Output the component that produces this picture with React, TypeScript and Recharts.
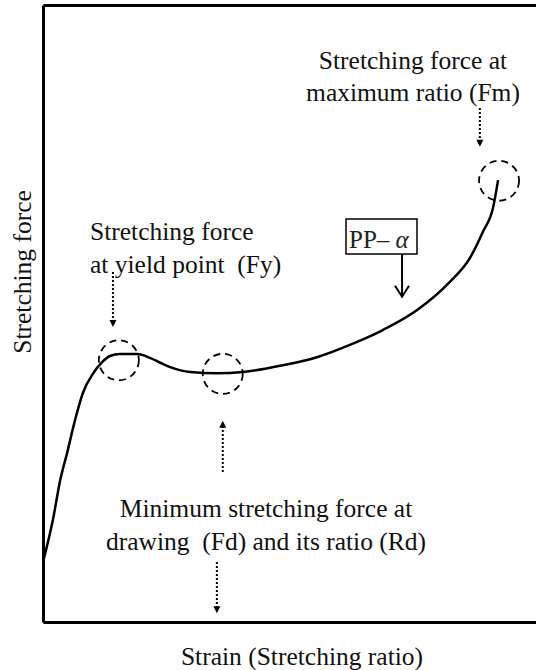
import type { FC } from "react";
import { LineChart, Line, XAxis, YAxis, ReferenceLine, ReferenceDot } from "recharts";

// stress-strain curve of the drawn PP film (arbitrary units, 0-100)
const strain = [0, 1.9, 3.4, 4.8, 6.4, 8.0, 10.1, 11.9, 13.5, 15.5, 19.0, 21.6, 23.7, 25.7, 29.8, 35.2, 40.5, 48.6, 55.5, 62.2, 68.9, 75.8, 82.5, 86.6, 89.2, 91.3, 92.3];
const force = [10.1, 16.6, 23.1, 27.5, 32.8, 37.2, 40.4, 42.2, 43.2, 43.5, 43.5, 42.9, 42.1, 41.4, 40.6, 40.4, 40.6, 41.7, 43.0, 45.0, 47.4, 50.6, 55.2, 59.1, 63.3, 67.3, 71.7];

// marked points: yield (Fy), drawing minimum (Fd), maximum ratio (Fm)
const markX = [15.3, 36.4, 92.5];
const markY = [42.5, 40.3, 71.6];

// pointer arrows [x, yFrom, yTo]
const dottedArrows = [
    [14.1, 56.8, 47.9],
    [36.4, 24.4, 32.7],
    [35.2, 9.8, 1.5],
    [88.6, 83.4, 77.1],
];
const ppArrow = [72.8, 59.7, 52.8];

const data = strain.map((s, i) => ({ strain: s, force: force[i] }));

const serif = "'Liberation Serif', 'Times New Roman', serif";
const sp2 = "\u00a0 ";

const DottedArrow = (p: any) => {
    const { x1, y1, x2, y2 } = p;
    const dir = y2 > y1 ? 1 : -1;
    return (
        <g>
            <line x1={x1} y1={y1} x2={x2} y2={y2 - dir * 6} stroke="#000" strokeWidth={2} strokeDasharray="2 2" />
            <polygon points={`${x2 - 3.5},${y2 - dir * 7} ${x2 + 3.5},${y2 - dir * 7} ${x2},${y2}`} fill="#000" />
        </g>
    );
};

const SolidArrow = (p: any) => {
    const { x1, y1, x2, y2 } = p;
    return (
        <g fill="none" stroke="#000" strokeWidth={2}>
            <line x1={x1} y1={y1} x2={x2} y2={y2} />
            <polyline points={`${x2 - 7},${y2 - 11} ${x2},${y2} ${x2 + 7},${y2 - 11}`} />
        </g>
    );
};

const App: FC = () => {
    return (
        <div style={{ position: "absolute", left: 0, top: 0, background: "#fff" }}>
            <LineChart
                width={536}
                height={670}
                data={data}
                margin={{ top: 5.5, right: 0, bottom: 47.5, left: 43.5 }}
            >
                <XAxis dataKey="strain" type="number" domain={[0, 100]} hide />
                <YAxis type="number" domain={[0, 100]} hide />
                {/* frame: left, bottom and top */}
                <ReferenceLine x={0} stroke="#000" strokeWidth={3} />
                <ReferenceLine y={0} stroke="#000" strokeWidth={3} />
                <ReferenceLine y={100} stroke="#000" strokeWidth={3} />
                <Line
                    type="monotone"
                    dataKey="force"
                    stroke="#000"
                    strokeWidth={2.5}
                    dot={false}
                    isAnimationActive={false}
                />
                {markX.map((x, i) => (
                    <ReferenceDot
                        key={i}
                        x={x}
                        y={markY[i]}
                        r={20}
                        fill="none"
                        stroke="#000"
                        strokeWidth={1.8}
                        strokeDasharray="7 5"
                    />
                ))}
                {dottedArrows.map(([x, a, b], i) => (
                    <ReferenceLine
                        key={`d${i}`}
                        segment={[{ x, y: a }, { x, y: b }]}
                        shape={DottedArrow}
                    />
                ))}
                <ReferenceLine
                    segment={[{ x: ppArrow[0], y: ppArrow[1] }, { x: ppArrow[0], y: ppArrow[2] }]}
                    shape={SolidArrow}
                />
                <g fontFamily={serif} fontSize={25.5} fill="#111">
                    <text x={413} y={69} textAnchor="middle">Stretching force at</text>
                    <text x={413} y={101} textAnchor="middle">maximum ratio (Fm)</text>
                    <text x={90} y={240}>Stretching force</text>
                    <text x={90} y={273}>{`at yield point${sp2}(Fy)`}</text>
                    <text x={266} y={517} textAnchor="middle">Minimum stretching force at</text>
                    <text x={266} y={550} textAnchor="middle">{`drawing${sp2}(Fd) and its ratio (Rd)`}</text>
                    <text x={302} y={665} textAnchor="middle">Strain (Stretching ratio)</text>
                    <text x={31} y={272} textAnchor="middle" transform="rotate(-90 31 272)">Stretching force</text>
                </g>
                <rect x={346} y={219} width={71} height={35} fill="#fff" stroke="#000" strokeWidth={1.5} />
                <text x={349} y={248} fontFamily={serif} fontSize={25} fill="#222">
                    PP–{" "}
                    <tspan fontStyle="italic">α</tspan>
                </text>
            </LineChart>
        </div>
    );
};

export default App;
